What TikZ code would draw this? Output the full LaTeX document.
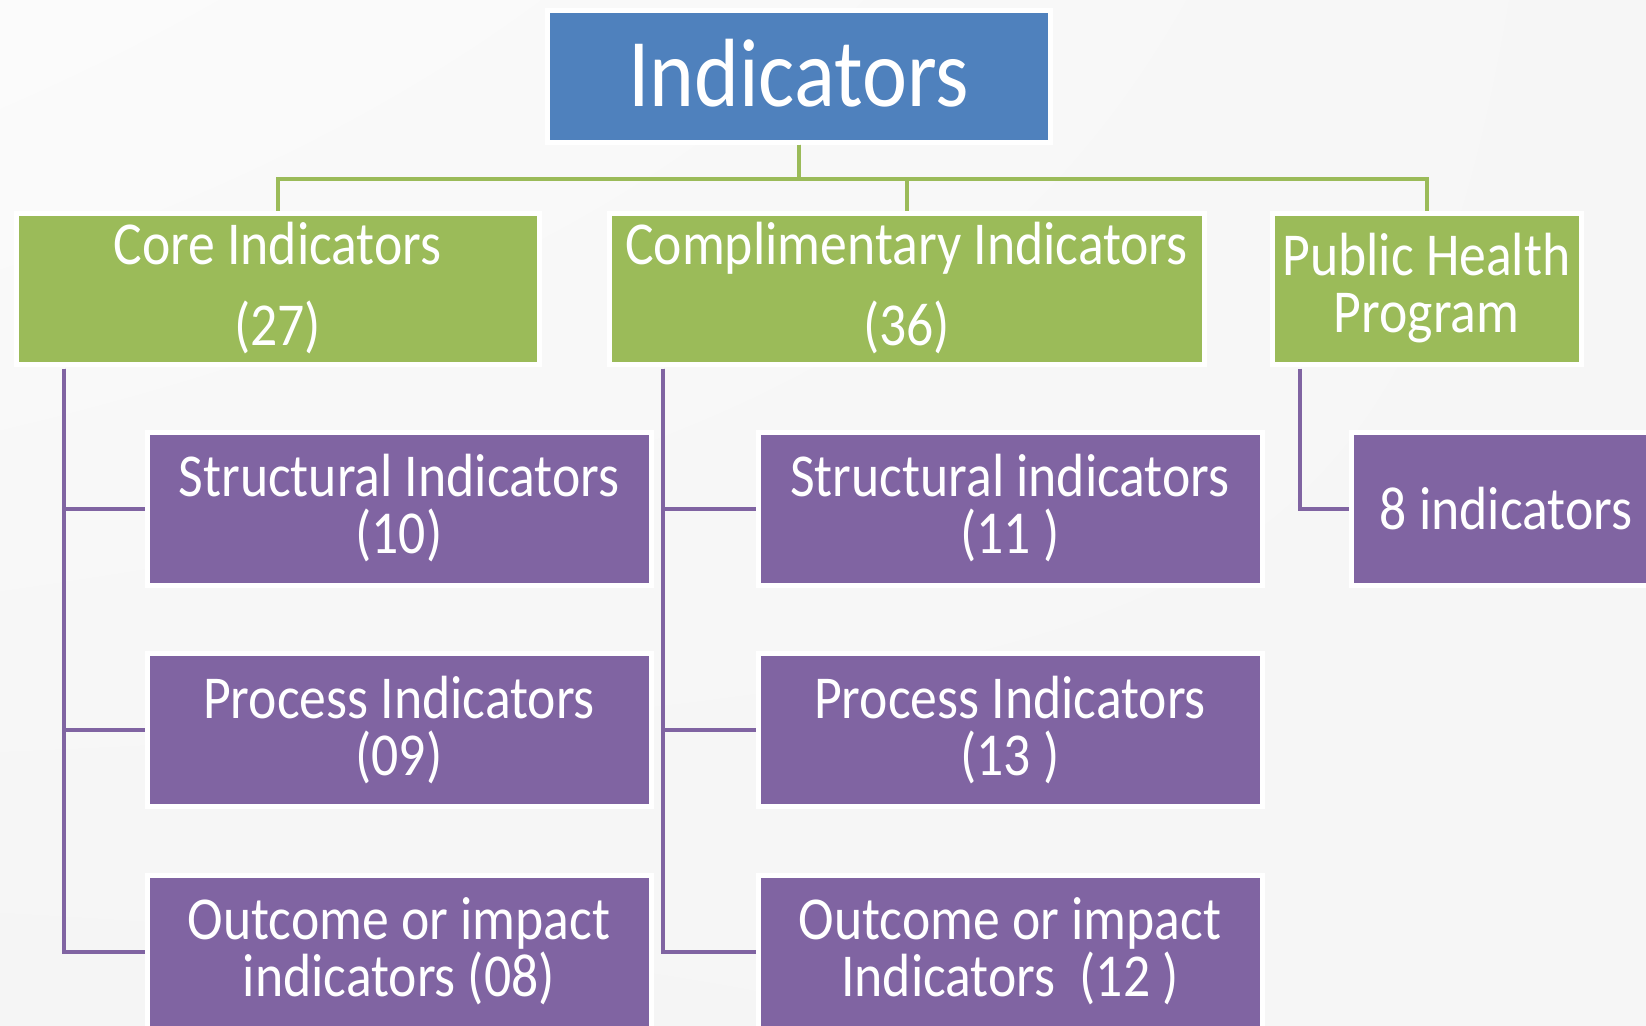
\documentclass[tikz,border=0pt]{standalone}
\usepackage{fontspec}
\setmainfont{Carlito}[FakeStretch=0.88]
\usetikzlibrary{shadings}
\definecolor{boxblue}{HTML}{4F81BD}
\definecolor{boxgreen}{HTML}{9BBB59}
\definecolor{boxpurple}{HTML}{8064A2}

\begin{document}
\begin{tikzpicture}[x=0.5pt,y=-0.5pt,
  top node/.style={draw=white,line width=2.5pt,fill=boxblue,text=white,inner sep=0pt,
    minimum width=251.5pt,minimum height=66pt,font=\fontsize{48.5}{50}\selectfont},
  group node/.style={draw=white,line width=2.5pt,fill=boxgreen,text=white,inner sep=0pt,
    minimum width=261.5pt,minimum height=75.5pt,align=center,font=\fontsize{30.5}{28.5}\selectfont},
  sub node/.style={draw=white,line width=2.5pt,fill=boxpurple,text=white,inner sep=0pt,
    minimum width=252pt,minimum height=76.5pt,align=center,font=\fontsize{30.5}{28.5}\selectfont},
  green line/.style={draw=boxgreen,line width=2pt},
  purple line/.style={draw=boxpurple,line width=2pt}]
  
  \shade[upper left=white!97!gray,upper right=white!93!gray,lower left=white!92!gray,lower right=white!93!gray]
    (0,0) rectangle (1646,1025);
  \useasboundingbox (0,0) rectangle (1646,1025);

  \node[top node] (ind) at (798.5,76) {\raisebox{3pt}{Indicators}};
  \node[group node] (core) at (277.5,288.5) {Core Indicators\\[12pt](27)};
  \node[group node,minimum width=297.5pt] (compl) at (906.5,288.5) {Complimentary Indicators\\[12pt](36)};
  \node[group node,minimum width=154.5pt] (php) at (1426.5,288.5) {Public Health\\Program};

  \node[sub node] (cs1) at (399,508.5) {Structural Indicators\\(10)};
  \node[sub node] (cs2) at (399,730) {Process Indicators\\(09)};
  \node[sub node] (cs3) at (399,951.5) {Outcome or impact\\indicators (08)};
  \node[sub node] (ms1) at (1010,508.5) {Structural indicators\\(11 )};
  \node[sub node] (ms2) at (1010,730) {Process Indicators\\(13 )};
  \node[sub node] (ms3) at (1010,951.5) {Outcome or impact\\Indicators\ \ (12 )};
  \node[sub node,minimum width=155pt] (ps1) at (1506,508.5) {8 indicators};

  \draw[green line] (ind.south) -- ++(0,34) -| (core.north);
  \draw[green line] (ind.south) -- ++(0,34) -| (compl.north);
  \draw[green line] (ind.south) -- ++(0,34) -| (php.north);

  \draw[purple line] ([xshift=25pt,yshift=-1pt]core.south west) |- (cs1.west);
  \draw[purple line] ([xshift=25pt,yshift=-1pt]core.south west) |- (cs2.west);
  \draw[purple line] ([xshift=25pt,yshift=-1pt]core.south west) |- (cs3.west);
  \draw[purple line] ([xshift=28.25pt,yshift=-1pt]compl.south west) |- (ms1.west);
  \draw[purple line] ([xshift=28.25pt,yshift=-1pt]compl.south west) |- (ms2.west);
  \draw[purple line] ([xshift=28.25pt,yshift=-1pt]compl.south west) |- (ms3.west);
  \draw[purple line] ([xshift=15pt,yshift=-1pt]php.south west) |- (ps1.west);
\end{tikzpicture}
\end{document}
